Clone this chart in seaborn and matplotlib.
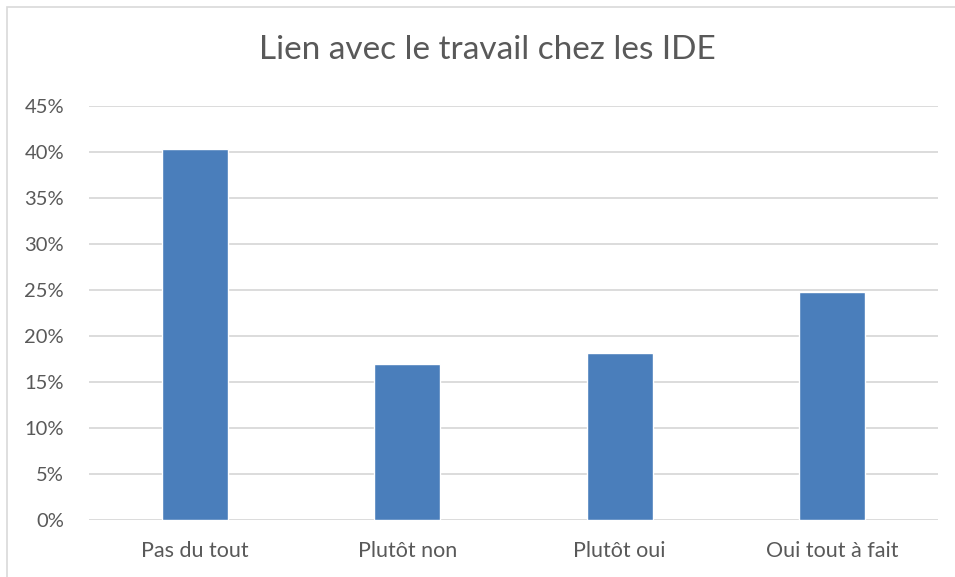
import matplotlib
matplotlib.use("Agg")
import matplotlib.pyplot as plt
import seaborn as sns
import pandas as pd
from matplotlib.ticker import FuncFormatter, MultipleLocator
from matplotlib.patches import Rectangle

categories = ["Pas du tout", "Plutôt non", "Plutôt oui", "Oui tout à fait"]
values = [0.403, 0.170, 0.182, 0.248]
title = "Lien avec le travail chez les IDE"

sns.set_theme(style="white")
plt.rcParams["font.family"] = ["Lato", "DejaVu Sans"]

df = pd.DataFrame({"cat": categories, "val": values})

fig = plt.figure(figsize=(9.55, 5.77), dpi=100)
ax = fig.add_axes([89/955, 1 - 520/577, (938-89)/955, (520-106)/577])

sns.barplot(data=df, x="cat", y="val", color="#4a7ebb", width=0.31,
            saturation=1, ax=ax, zorder=3)

ax.set_ylim(0, 0.45)
ax.set_xlim(-0.5, 3.5)
ax.yaxis.set_major_locator(MultipleLocator(0.05))
ax.yaxis.set_major_formatter(FuncFormatter(lambda v, p: f"{round(v*100)}%"))
ax.grid(axis="y", color="#d9d9d9", linewidth=1.3, zorder=0)
ax.set_axisbelow(True)
for s in ax.spines.values():
    s.set_visible(False)
ax.set_xlabel("")
ax.set_ylabel("")
ax.tick_params(axis="both", length=0, labelcolor="#595959")
ax.tick_params(axis="y", pad=18, labelsize=14.5)
ax.tick_params(axis="x", pad=15, labelsize=15.5)

fig.text(487/955, 1 - 50/577, title, ha="center", va="center",
         fontsize=24, color="#595959")

fig.patches.append(Rectangle((7/955, -0.01), 1.0, 1 - 7/577 + 0.01,
                             transform=fig.transFigure, fill=False,
                             edgecolor="#d9d9d9", linewidth=1.2))

fig.savefig("out.png", dpi=100, facecolor="white")
